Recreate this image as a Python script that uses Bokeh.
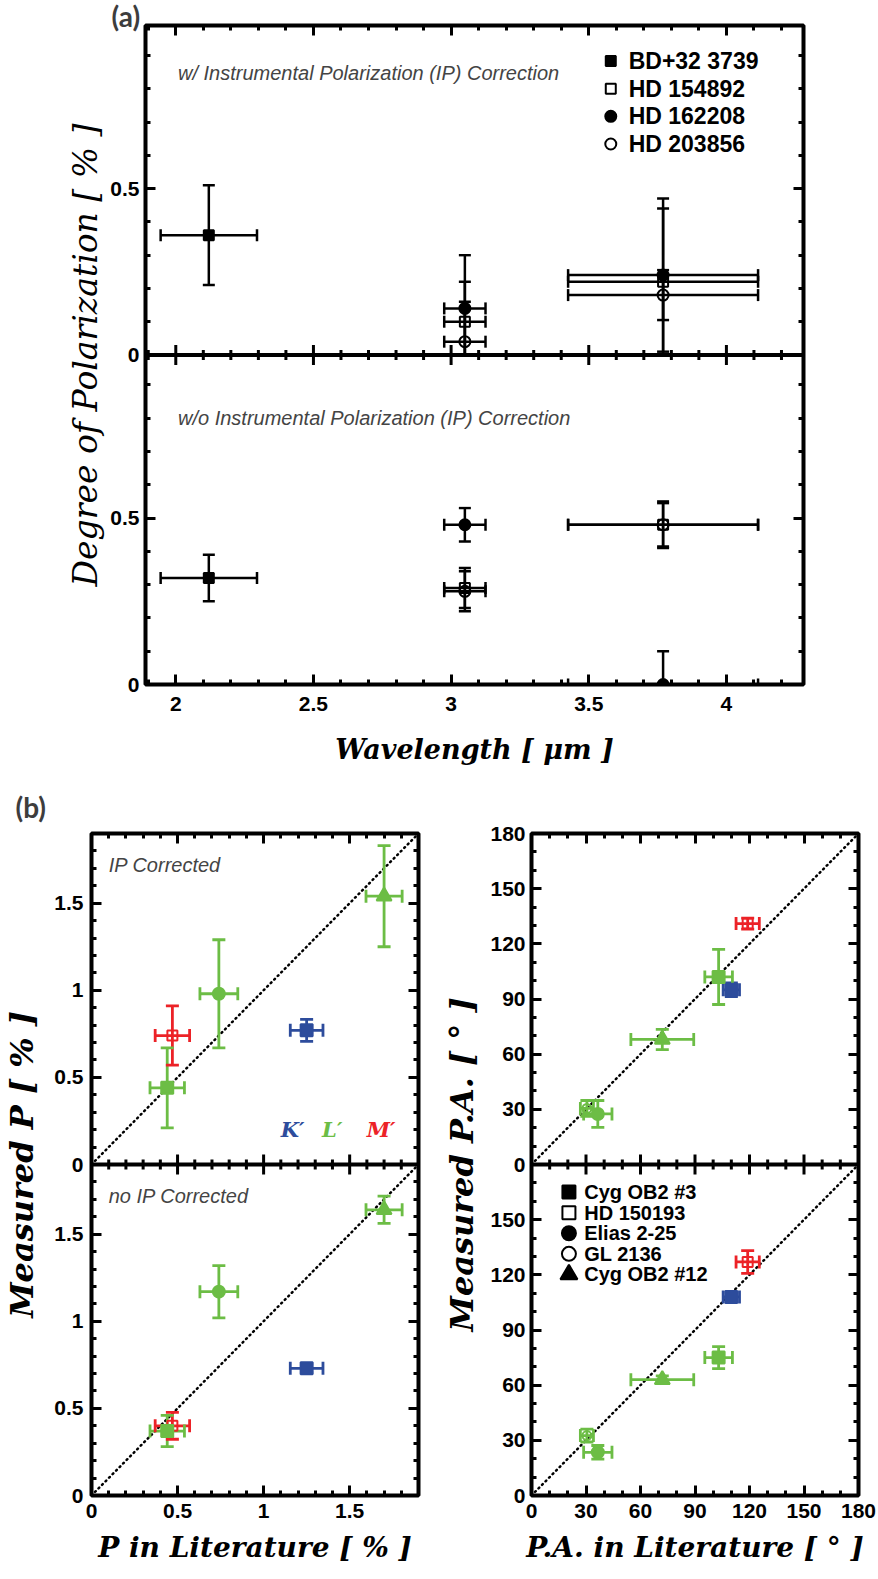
import numpy as np
from bokeh.plotting import figure
from bokeh.models import (FixedTicker, CustomJSTickFormatter, LinearAxis, Span,
                          Label, ColumnDataSource, Range1d)
from bokeh.layouts import column, row
from bokeh.embed import file_html
from bokeh.resources import INLINE
from bokeh.core.properties import value

# ---------------------------------------------------------------------------
# (a) degree of polarization of unpolarized standards vs. wavelength
# ---------------------------------------------------------------------------
a_star = ["BD+32 3739", "HD 154892", "HD 154892", "HD 162208", "HD 162208",
          "HD 203856", "HD 203856"]
a_wave = [2.12, 3.05, 3.77, 3.05, 3.77, 3.05, 3.77]          # micron
a_wave_err = [0.175, 0.075, 0.345, 0.075, 0.345, 0.075, 0.345]
a_p_ip = [0.36, 0.10, 0.22, 0.14, 0.24, 0.04, 0.18]          # with IP correction
a_p_ip_err = [0.15, 0.12, 0.22, 0.16, 0.23, 0.12, 0.075]
a_p_raw = [0.32, 0.29, 0.48, 0.48, 0.00, 0.28, 0.48]         # without IP correction
a_p_raw_err = [0.07, 0.06, 0.07, 0.05, 0.10, 0.06, 0.065]
a_legend = ["BD+32 3739", "HD 154892", "HD 162208", "HD 203856"]

# ---------------------------------------------------------------------------
# (b) comparison with literature values (polarized standards)
# ---------------------------------------------------------------------------
p_star = ["Cyg OB2 #3", "HD 150193", "Elias 2-25", "Cyg OB2 #3", "Cyg OB2 #12"]
p_band = ["K′", "M′", "L′", "L′", "L′"]
p_lit = [1.25, 0.47, 0.74, 0.44, 1.70]
p_lit_err = [0.095, 0.10, 0.11, 0.10, 0.105]
p_ip = [0.77, 0.74, 0.98, 0.44, 1.54]
p_ip_err = [0.063, 0.17, 0.31, 0.23, 0.29]
p_raw = [0.73, 0.40, 1.17, 0.37, 1.64]
p_raw_err = [0.025, 0.077, 0.15, 0.09, 0.078]

pa_star = ["Cyg OB2 #3", "HD 150193", "Cyg OB2 #3", "Cyg OB2 #12", "GL 2136", "Elias 2-25"]
pa_band = ["K′", "M′", "L′", "L′", "L′", "L′"]
pa_lit = [110.0, 119.0, 103.0, 72.0, 30.5, 36.5]
pa_lit_err = [4.5, 6.4, 7.6, 17.3, 3.6, 7.8]
pa_ip = [95.0, 131.0, 102.0, 68.0, 30.5, 27.5]
pa_ip_err = [3.7, 3.0, 15.0, 5.5, 4.3, 7.3]
pa_raw = [108.0, 127.0, 75.0, 63.0, 32.6, 23.5]
pa_raw_err = [2.5, 6.2, 6.0, 2.0, 3.5, 3.7]

b_legend = ["Cyg OB2 #3", "HD 150193", "Elias 2-25", "GL 2136", "Cyg OB2 #12"]
bands = ["K′", "L′", "M′"]

# ---------------------------------------------------------------------------
# styles
# ---------------------------------------------------------------------------
BAND_COLOR = {"K′": "#2D4C9C", "L′": "#6CBD45", "M′": "#EC2227"}
STAR_MARK = {"BD+32 3739": ("square", True), "HD 154892": ("square", False),
             "HD 162208": ("circle", True), "HD 203856": ("circle", False),
             "Cyg OB2 #3": ("square", True), "HD 150193": ("square", False),
             "Elias 2-25": ("circle", True), "GL 2136": ("circle", False),
             "Cyg OB2 #12": ("triangle", True)}
SIZE_A = {("square", True): 10, ("square", False): 10, ("circle", True): 11,
          ("circle", False): 11, ("triangle", True): 14}
SIZE_B = {("square", True): 12, ("square", False): 10, ("circle", True): 12,
          ("circle", False): 9, ("triangle", True): 15}
SIZE_KEY_B = {("square", True): 13, ("square", False): 13, ("circle", True): 14,
              ("circle", False): 14, ("triangle", True): 17}

TICK_FONT = "Liberation Sans"
NOTE_FONT = "Liberation Sans"
TITLE_FONT = "DejaVu Serif"
TAG_FONT = "Lato"

# each column stacks two panels in one frame; the upper panel is shifted by OFF
OFF_A = 0.99
OFF_P = 1.9
OFF_PA = 180.0

W = 878
HA = 775
HB = 1579 - HA


def base_fig(width, height, xr, yr, left, right, top, bottom):
    p = figure(width=width, height=height, x_range=Range1d(*xr), y_range=Range1d(*yr),
               output_backend="svg", toolbar_location=None,
               min_border_left=left, min_border_right=right,
               min_border_top=top, min_border_bottom=bottom)
    p.grid.visible = False
    p.outline_line_color = "black"
    p.outline_line_width = 4
    p.background_fill_color = "white"
    p.border_fill_color = "white"
    return p


def panel_tag(p, text, side, dx, dy):
    # placed in a side panel, so it is not clipped to the data area
    p.add_layout(Label(x=dx, y=dy, x_units="screen", y_units="screen", text=text,
                       text_font=TAG_FONT, text_font_style="bold", text_font_size="28px",
                       text_color="#3d3d3d", text_baseline="middle"), side)


def stacked_formatter(off):
    return CustomJSTickFormatter(args=dict(off=off), code="""
        const v = tick >= off - 1e-6 ? tick - off : tick;
        return String(Math.round(v * 100) / 100);
    """)


def style_axes(p, xticker, yticker, yoff, label_px):
    p.add_layout(LinearAxis(), "above")
    p.add_layout(LinearAxis(), "right")
    for ax in p.below + p.above:
        ax.ticker = xticker
    for ax in p.left + p.right:
        ax.ticker = yticker
    for ax in p.below + p.above + p.left + p.right:
        ax.axis_line_color = None
        ax.major_tick_in = 10
        ax.major_tick_out = 0
        ax.minor_tick_in = 5
        ax.minor_tick_out = 0
        ax.major_tick_line_width = 3
        ax.minor_tick_line_width = 3
        ax.major_tick_line_color = "black"
        ax.minor_tick_line_color = "black"
        ax.major_label_text_font = TICK_FONT
        ax.major_label_text_font_style = "bold"
        ax.major_label_text_font_size = f"{label_px}px"
        ax.major_label_text_color = "black"
    for ax in p.above + p.right:
        ax.formatter = CustomJSTickFormatter(code="return ''")
        ax.major_label_text_font_size = "0px"
        ax.major_label_standoff = 0
    p.below[0].formatter = stacked_formatter(1e9)
    p.left[0].formatter = stacked_formatter(yoff)


def axis_title(ax, text, style, size, standoff, label_standoff):
    ax.axis_label = text
    ax.axis_label_text_font = TITLE_FONT
    ax.axis_label_text_font_style = style
    ax.axis_label_text_font_size = size
    ax.axis_label_text_color = "black"
    ax.axis_label_standoff = standoff
    ax.major_label_standoff = label_standoff


def divider(p, off, xmajor, xminor):
    p.add_layout(Span(location=off, dimension="width", line_color="black", line_width=4))
    p.scatter(x=xmajor, y=[off] * len(xmajor), marker="dash", angle=np.pi / 2,
              size=20, line_color="black", line_width=3)
    p.scatter(x=xminor, y=[off] * len(xminor), marker="dash", angle=np.pi / 2,
              size=10, line_color="black", line_width=3)


def errorbars(p, x, y, xerr, yerr, colors, floor=None, lw=2.5, cap=12):
    x = np.asarray(x, float)
    y = np.asarray(y, float)
    xerr = np.asarray(xerr, float)
    yerr = np.asarray(yerr, float)
    colors = list(colors)
    lo = y - yerr
    hi = y + yerr
    if floor is None:
        lo_line = lo
        keep = np.ones(len(x), bool)
    else:
        lo_line = np.maximum(lo, floor)
        keep = lo >= floor - 1e-9
    p.segment(x0=x, y0=lo_line, x1=x, y1=hi, line_color=colors, line_width=lw)
    p.segment(x0=x - xerr, y0=y, x1=x + xerr, y1=y, line_color=colors, line_width=lw)
    kc = [c for c, k in zip(colors, keep) if k]
    p.scatter(x=np.concatenate([x, x[keep]]), y=np.concatenate([hi, lo[keep]]),
              marker="dash", size=cap, line_color=colors + kc, line_width=lw)
    p.scatter(x=np.concatenate([x - xerr, x + xerr]), y=np.concatenate([y, y]),
              marker="dash", angle=np.pi / 2, size=cap, line_color=colors + colors,
              line_width=lw)


def marker_source(xs, ys, stars, colors, sizes):
    return ColumnDataSource(dict(
        x=list(xs), y=list(ys),
        marker=[STAR_MARK[s][0] for s in stars],
        size=[sizes[STAR_MARK[s]] for s in stars],
        fill=[c if STAR_MARK[s][1] else None for s, c in zip(stars, colors)],
        line=list(colors),
    ))


def ticks(lo, hi, step, major_step):
    vals = np.round(np.arange(lo, hi + step / 2, step), 6)
    ratio = np.round(vals / major_step, 6)
    major = [float(v) for v, r in zip(vals, ratio) if abs(r - round(r)) < 1e-6]
    minor = [float(v) for v, r in zip(vals, ratio) if abs(r - round(r)) >= 1e-6]
    return major, minor


# ===========================================================================
# panel (a)
# ===========================================================================
pa_fig = base_fig(W, HA, (1.89, 4.28), (0, 2 * OFF_A), 145, 75, 25, 91)

ax_major, ax_minor = ticks(1.9, 4.2, 0.1, 0.5)
ay_major, ay_minor = ticks(0.0, 0.9, 0.1, 0.5)
style_axes(pa_fig,
           FixedTicker(ticks=ax_major, minor_ticks=ax_minor),
           FixedTicker(ticks=ay_major + [v + OFF_A for v in ay_major],
                       minor_ticks=ay_minor + [v + OFF_A for v in ay_minor]),
           OFF_A, 21)
axis_title(pa_fig.left[0], "Degree of Polarization [ % ]", "italic", "33px", 2, 6)
axis_title(pa_fig.below[0], "Wavelength [ μm ]", "bold italic", "27px", 20, 12)
panel_tag(pa_fig, "(a)", "left", 77, 659 + 10)
divider(pa_fig, OFF_A, [v for v in ax_major if 1.89 < v < 4.28],
        [v for v in ax_minor if 1.89 < v < 4.28])

black = ["black"] * len(a_wave)
errorbars(pa_fig, a_wave, np.add(a_p_ip, OFF_A), a_wave_err, a_p_ip_err, black,
          floor=OFF_A, cap=12)
errorbars(pa_fig, a_wave, a_p_raw, a_wave_err, a_p_raw_err, black, cap=12)
pa_fig.scatter("x", "y", marker="marker", size="size", fill_color="fill",
               line_color="line", line_width=2,
               source=marker_source(list(a_wave) * 2,
                                    list(np.add(a_p_ip, OFF_A)) + list(a_p_raw),
                                    a_star * 2, black * 2, SIZE_A))

# key for the standards
LEG_A_X, LEG_A_TX, LEG_A_Y0, LEG_A_DY = 3.58, 3.645, OFF_A + 0.883, 0.083
leg_a_y = [LEG_A_Y0 - k * LEG_A_DY for k in range(len(a_legend))]
pa_fig.scatter("x", "y", marker="marker", size="size", fill_color="fill",
               line_color="line", line_width=2,
               source=marker_source([LEG_A_X] * len(a_legend), leg_a_y, a_legend,
                                    ["black"] * len(a_legend), SIZE_A))
pa_fig.text(x=[LEG_A_TX] * len(a_legend), y=leg_a_y, text=a_legend,
            text_font=value(TICK_FONT), text_font_style="bold",
            text_font_size="23px", text_baseline="middle", text_color="black")

pa_fig.add_layout(Label(x=2.008, y=OFF_A + 0.848,
                        text="w/ Instrumental Polarization (IP) Correction",
                        text_font=NOTE_FONT, text_font_style="italic",
                        text_font_size="20px", text_baseline="middle"))
pa_fig.add_layout(Label(x=2.008, y=0.80,
                        text="w/o Instrumental Polarization (IP) Correction",
                        text_font=NOTE_FONT, text_font_style="italic",
                        text_font_size="20px", text_baseline="middle"))

# ===========================================================================
# panel (b), left: degree of polarization
# ===========================================================================
pb_fig = base_fig(440, HB, (0, OFF_P), (0, 2 * OFF_P), 88, 22, 58, 84)
bx_major, bx_minor = ticks(0.0, 1.8, 0.1, 0.5)
by_major, by_minor = ticks(0.0, 1.8, 0.1, 0.5)
style_axes(pb_fig,
           FixedTicker(ticks=bx_major, minor_ticks=bx_minor),
           FixedTicker(ticks=by_major + [v + OFF_P for v in by_major],
                       minor_ticks=by_minor + [v + OFF_P for v in by_minor]),
           OFF_P, 21)
axis_title(pb_fig.left[0], "Measured P [ % ]", "bold italic", "32px", 10, 8)
axis_title(pb_fig.below[0], "P in Literature [ % ]", "bold italic", "28px", 10, 8)
panel_tag(pb_fig, "(b)", "above", -76, 27)
divider(pb_fig, OFF_P, [v for v in bx_major if v > 0], bx_minor)

diag_p = [0.0, OFF_P]
pb_fig.line(diag_p, diag_p, line_color="black", line_width=2.5, line_dash="1 4", line_cap="round")
pb_fig.line(diag_p, np.add(diag_p, OFF_P), line_color="black", line_width=2.5,
            line_dash="1 4", line_cap="round")

p_col = [BAND_COLOR[b] for b in p_band]
errorbars(pb_fig, p_lit, np.add(p_ip, OFF_P), p_lit_err, p_ip_err, p_col, lw=2.8, cap=13)
errorbars(pb_fig, p_lit, p_raw, p_lit_err, p_raw_err, p_col, lw=2.8, cap=13)
pb_fig.scatter("x", "y", marker="marker", size="size", fill_color="fill",
               line_color="line", line_width=2,
               source=marker_source(list(p_lit) * 2,
                                    list(np.add(p_ip, OFF_P)) + list(p_raw),
                                    p_star * 2, p_col * 2, SIZE_B))

for band, bx in zip(bands, [1.10, 1.34, 1.60]):
    pb_fig.add_layout(Label(x=bx, y=OFF_P + 0.2, text=band, text_color=BAND_COLOR[band],
                            text_font=TITLE_FONT, text_font_style="bold italic",
                            text_font_size="21px", text_baseline="middle"))
pb_fig.add_layout(Label(x=0.1, y=OFF_P + 1.72, text="IP Corrected", text_font=NOTE_FONT,
                        text_font_style="italic", text_font_size="20px",
                        text_baseline="middle"))
pb_fig.add_layout(Label(x=0.1, y=1.72, text="no IP Corrected", text_font=NOTE_FONT,
                        text_font_style="italic", text_font_size="20px",
                        text_baseline="middle"))

# ===========================================================================
# panel (b), right: position angle
# ===========================================================================
pc_fig = base_fig(438, HB, (0, OFF_PA), (0, 2 * OFF_PA), 88, 20, 58, 84)
cx_major, cx_minor = ticks(0.0, 180.0, 10.0, 30.0)
cy_major, cy_minor = ticks(0.0, 170.0, 10.0, 30.0)
style_axes(pc_fig,
           FixedTicker(ticks=cx_major, minor_ticks=cx_minor),
           FixedTicker(ticks=cy_major + [v + OFF_PA for v in cy_major] + [2 * OFF_PA],
                       minor_ticks=cy_minor + [v + OFF_PA for v in cy_minor]),
           OFF_PA, 21)
axis_title(pc_fig.left[0], "Measured P.A. [ ° ]", "bold italic", "32px", 6, 6)
axis_title(pc_fig.below[0], "P.A. in Literature [ ° ]", "bold italic", "28px", 10, 8)
divider(pc_fig, OFF_PA, [v for v in cx_major if 0 < v < 180], cx_minor)

diag_pa = [0.0, OFF_PA]
pc_fig.line(diag_pa, diag_pa, line_color="black", line_width=2.5, line_dash="1 4", line_cap="round")
pc_fig.line(diag_pa, np.add(diag_pa, OFF_PA), line_color="black", line_width=2.5,
            line_dash="1 4", line_cap="round")

pa_col = [BAND_COLOR[b] for b in pa_band]
errorbars(pc_fig, pa_lit, np.add(pa_ip, OFF_PA), pa_lit_err, pa_ip_err, pa_col, lw=2.8, cap=13)
errorbars(pc_fig, pa_lit, pa_raw, pa_lit_err, pa_raw_err, pa_col, lw=2.8, cap=13)
pc_fig.scatter("x", "y", marker="marker", size="size", fill_color="fill",
               line_color="line", line_width=2,
               source=marker_source(list(pa_lit) * 2,
                                    list(np.add(pa_ip, OFF_PA)) + list(pa_raw),
                                    pa_star * 2, pa_col * 2, SIZE_B))

# key for the polarized standards
LEG_B_X, LEG_B_TX, LEG_B_Y0, LEG_B_DY = 20.6, 29.0, 165.0, 11.2
leg_b_y = [LEG_B_Y0 - k * LEG_B_DY for k in range(len(b_legend))]
pc_fig.scatter("x", "y", marker="marker", size="size", fill_color="fill",
               line_color="line", line_width=2,
               source=marker_source([LEG_B_X] * len(b_legend), leg_b_y, b_legend,
                                    ["black"] * len(b_legend), SIZE_KEY_B))
pc_fig.text(x=[LEG_B_TX] * len(b_legend), y=leg_b_y, text=b_legend,
            text_font=value(TICK_FONT), text_font_style="bold",
            text_font_size="20px", text_baseline="middle", text_color="black")

layout = column(pa_fig, row(pb_fig, pc_fig, spacing=0), spacing=0)
open("out.html", "w").write(file_html(layout, INLINE))
